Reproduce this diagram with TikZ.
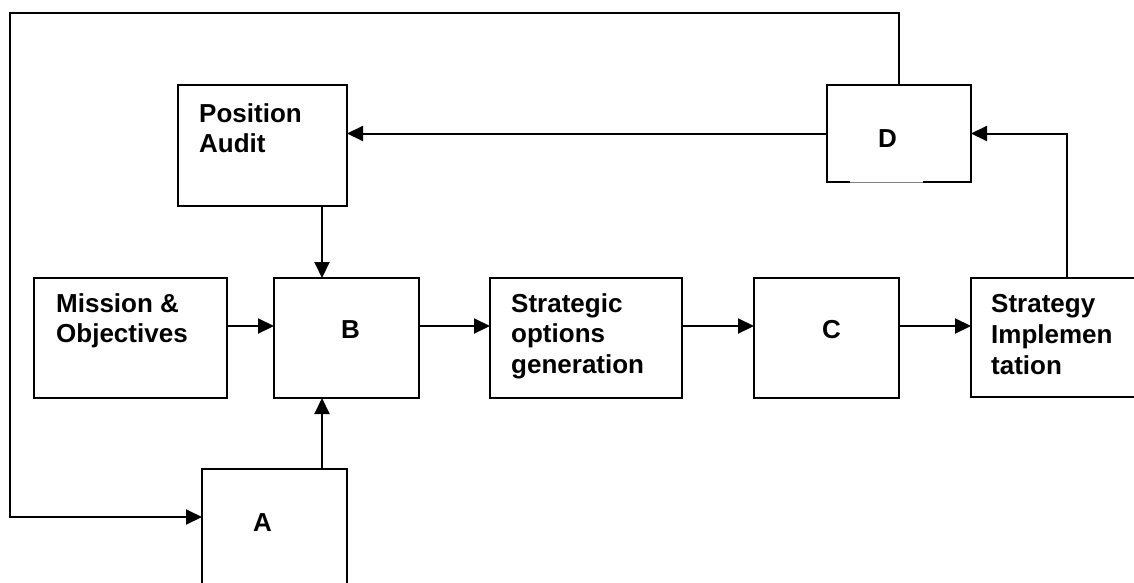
\documentclass[tikz,border=0pt]{standalone}
\usepackage{fontspec}
\setmainfont{Liberation Sans}
\usetikzlibrary{arrows.meta}
\begin{document}
\begin{tikzpicture}[x=1pt,y=-1pt,
  box/.style={draw,line width=2pt,rectangle,anchor=north west,inner sep=0pt,outer sep=0pt},
  lbl/.style={anchor=base west,inner sep=0pt,font=\bfseries\fontsize{26}{30}\selectfont},
  conn/.style={line width=2pt},
  arr/.style={conn,-{Triangle[length=16pt,width=15pt]}}]
\path[use as bounding box] (0,0) rectangle (1134,583);
\clip (0,0) rectangle (1134,583);
\fill[white] (0,0) rectangle (1134,583);
% boxes
\node[box,minimum width=169pt,minimum height=121pt] (pa) at (178,85) {};
\node[box,minimum width=144pt,minimum height=97pt] (d) at (827,85) {};
\node[box,minimum width=193pt,minimum height=120pt] (mo) at (34,278) {};
\node[box,minimum width=145pt,minimum height=120pt] (b) at (274,278) {};
\node[box,minimum width=192pt,minimum height=120pt] (sog) at (490,278) {};
\node[box,minimum width=145pt,minimum height=120pt] (c) at (754,278) {};
\node[box,minimum width=190pt,minimum height=119pt] (si) at (971,278) {};
\node[box,minimum width=145pt,minimum height=140pt] (a) at (202,469) {};
% gap in bottom edge of D
\draw[white,line width=2.6pt] (850,182) -- (923,182);
\draw[gray,line width=0.6pt] (850,182) -- (923,182);
% helper coordinates
\coordinate (colB) at (322,0);
\coordinate (row) at (0,326);
\coordinate (up) at (1067,0);
\coordinate (top) at (899,13);
\coordinate (lt) at (10,13);
\coordinate (lb) at (10,517);
% connectors
\draw[arr] (pa.south -| colB) -- (b.north -| colB);
\draw[arr] (a.north -| colB) -- (b.south -| colB);
\draw[arr] (mo.east |- row) -- (b.west |- row);
\draw[arr] (b.east |- row) -- (sog.west |- row);
\draw[arr] (sog.east |- row) -- (c.west |- row);
\draw[arr] (c.east |- row) -- (si.west |- row);
\draw[arr] (si.north -| up) |- (d.east);
\draw[arr] (d.west) -- (pa.east |- d.west);
\draw[arr] (d.north -| top) -- (top) -- (lt) -- (lb) -- (a.west |- lb);
% labels
\node[lbl] (pa1) at (199,122) {Position};
\node[lbl] (pa2) at (199,152) {Audit};
\node[lbl] (mo1) at (56,312) {Mission \&};
\node[lbl] (mo2) at (56,342) {Objectives};
\node[lbl] (bl) at (341,338) {B};
\node[lbl] (al) at (253,531) {A};
\node[lbl] (dl) at (878,147) {D};
\node[lbl] (cl) at (822,338) {C};
\node[lbl] (s1) at (511,312) {Strategic};
\node[lbl] (s2) at (511,342) {options};
\node[lbl] (s3) at (511,373) {generation};
\node[lbl] (i1) at (991,312) {Strategy};
\node[lbl] (i2) at (991,343) {Implemen};
\node[lbl] (i3) at (991,374) {tation};
\end{tikzpicture}
\end{document}
